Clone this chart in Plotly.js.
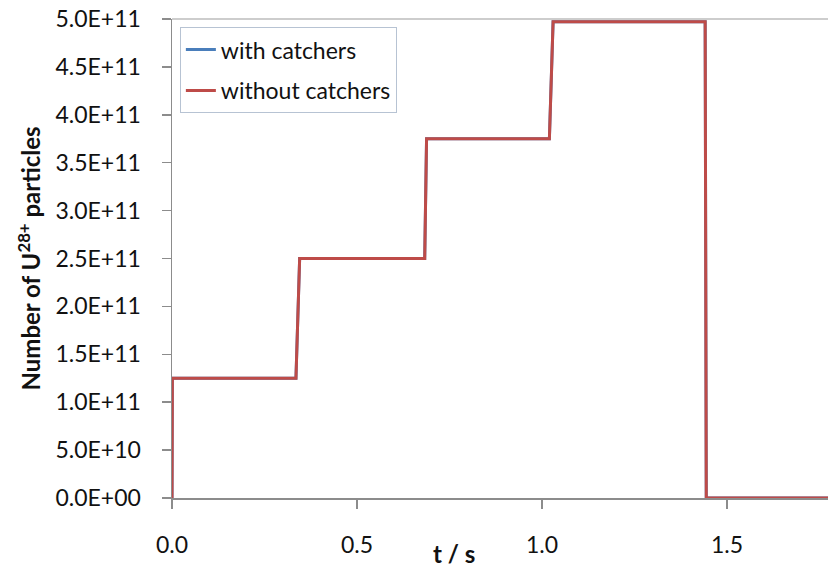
<!DOCTYPE html>
<html>
<head>
<meta charset="utf-8">
<script src="https://cdn.plot.ly/plotly-3.0.1.min.js"></script>
<style>
  html, body { margin: 0; padding: 0; background: #fff; }
  #chart { width: 828px; height: 569px; }
</style>
</head>
<body>
<div id="chart"></div>
<script>
// time in seconds
const timeS = [0, 0.001, 0.335, 0.345, 0.683, 0.688, 1.02, 1.03, 1.441, 1.444, 1.78];
// number of U28+ particles
const withCatchers    = [0, 1.25e11, 1.25e11, 2.5e11, 2.5e11, 3.75e11, 3.75e11, 4.97e11, 4.97e11, 0, 0];
const withoutCatchers = [0, 1.25e11, 1.25e11, 2.5e11, 2.5e11, 3.75e11, 3.75e11, 4.97e11, 4.97e11, 0, 0];

const xTickVals = [0, 0.5, 1.0, 1.5];
const xTickText = ['0.0', '0.5', '1.0', '1.5'];
const yTickVals = [0, 5e10, 1e11, 1.5e11, 2e11, 2.5e11, 3e11, 3.5e11, 4e11, 4.5e11, 5e11];
const yTickText = ['0.0E+00', '5.0E+10', '1.0E+11', '1.5E+11', '2.0E+11', '2.5E+11',
                   '3.0E+11', '3.5E+11', '4.0E+11', '4.5E+11', '5.0E+11'];

const FONT = 'Lato, "Open Sans", "DejaVu Sans", sans-serif';

const traces = [
  { x: timeS, y: withCatchers, name: 'with catchers', mode: 'lines',
    legendgroup: 'a', line: { color: '#4a7ebb', width: 3 } },
  { x: timeS, y: withoutCatchers, name: 'without catchers', mode: 'lines',
    legendgroup: 'b', line: { color: '#be4b48', width: 3 } }
];

const layout = {
  width: 828, height: 569,
  margin: { l: 172, r: 0, t: 19, b: 71, pad: 0 },
  paper_bgcolor: '#ffffff', plot_bgcolor: '#ffffff',
  font: { family: FONT, size: 23, color: '#111' },
  showlegend: true,
  legend: {
    x: 0.012, y: 0.983, xanchor: 'left', yanchor: 'top',
    bgcolor: '#ffffff', bordercolor: '#b7c3d3', borderwidth: 1,
    font: { family: FONT, size: 23, color: '#111' },
    traceorder: 'grouped', tracegroupgap: 8
  },
  xaxis: {
    range: [0, 1.773], tickvals: xTickVals, ticktext: xTickText,
    showgrid: false, zeroline: false,
    showline: true, linecolor: '#8c8c8c', linewidth: 1.5,
    ticks: 'outside', ticklen: 9, tickcolor: '#8c8c8c', tickwidth: 1.5,
    ticklabelstandoff: 17,
    tickfont: { family: FONT, size: 23, color: '#111' }
  },
  yaxis: {
    range: [0, 5e11], tickvals: yTickVals, ticktext: yTickText,
    showgrid: false, zeroline: false,
    showline: true, linecolor: '#8c8c8c', linewidth: 1.5,
    ticks: 'outside', ticklen: 9, tickcolor: '#8c8c8c', tickwidth: 1.5,
    ticklabelstandoff: 16,
    tickfont: { family: FONT, size: 23, color: '#111' }
  },
  shapes: [
    // top border line of the plot area
    { type: 'line', xref: 'paper', yref: 'paper', x0: 0, x1: 1, y0: 1, y1: 1,
      line: { color: '#bdbdbd', width: 1.5 }, layer: 'below' }
  ],
  annotations: [
    { text: '<b>t / s</b>', xref: 'paper', yref: 'paper',
      x: (454 - 172) / 656, y: -(553 - 498) / 479, xanchor: 'center', yanchor: 'middle',
      showarrow: false, font: { family: FONT, size: 24, color: '#111' } },
    { text: '<b>Number of U<sup>28+</sup> particles</b>', xref: 'paper', yref: 'paper',
      x: (28 - 172) / 656, y: 0.5, xanchor: 'center', yanchor: 'middle', textangle: -90,
      showarrow: false, font: { family: FONT, size: 24, color: '#111' } }
  ]
};

Plotly.newPlot('chart', traces, layout, { displayModeBar: false, staticPlot: true });
</script>
</body>
</html>
